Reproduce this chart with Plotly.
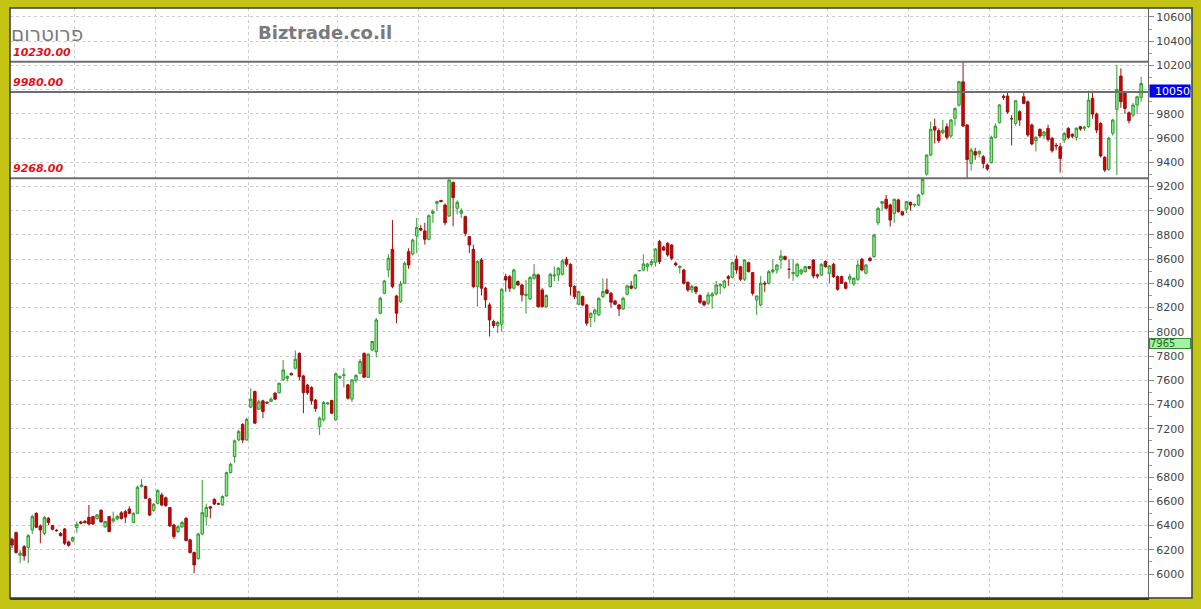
import plotly.graph_objects as go

# ---------------- data ----------------
opens = [
    6287, 6342, 6155, 6226, 6220, 6364, 6501, 6397, 6336, 6460,
    6400, 6362, 6336, 6372, 6265, 6273, 6383, 6430, 6435, 6468,
    6474, 6457, 6526, 6391, 6474, 6438, 6455, 6505, 6515, 6537,
    6425, 6501, 6722, 6722, 6620, 6524, 6584, 6653, 6630, 6549,
    6405, 6350, 6389, 6460, 6282, 6177, 6127, 6331, 6474, 6555,
    6617, 6580, 6571, 6645, 6837, 6970, 7107, 7236, 7107,
    7378, 7507, 7361, 7430, 7418, 7425, 7494, 7497, 7604, 7617,
    7655, 7699, 7822, 7636, 7560, 7541, 7436, 7218, 7273, 7405,
    7433, 7273, 7620, 7640, 7562, 7444, 7600, 7658, 7822, 7625,
    7850, 7836, 8153, 8318, 8511, 8681, 8296, 8249, 8401, 8662,
    8643, 8791, 8853, 8833, 8764, 8978, 9061, 9085, 9047, 8956,
    9234, 9020, 8978, 8951, 8786, 8681, 8374,
    8594, 8360, 8222, 8085, 8050, 8063, 8456, 8456, 8360, 8415,
    8387, 8300, 8272, 8442, 8470, 8346, 8208, 8374, 8460, 8470,
    8475, 8600, 8558, 8374, 8228, 8291, 8222, 8118, 8150, 8140,
    8291, 8346, 8318, 8255, 8222, 8189, 8310, 8379, 8360, 8505,
    8510, 8540, 8555, 8574, 8745, 8700, 8731, 8717, 8566, 8530,
    8511, 8409, 8346, 8370, 8299, 8250, 8236,
    8296, 8313, 8380, 8368, 8456, 8450, 8599, 8538, 8434, 8571,
    8489, 8263, 8222, 8401, 8401, 8497, 8511, 8593, 8621, 8516,
    8480, 8461, 8484, 8497, 8538, 8593, 8470, 8469, 8580, 8483,
    8558, 8456, 8456, 8406, 8434, 8395, 8434, 8599, 8484, 8607,
    8621, 8901, 9061, 9094, 9047, 8978, 9089, 8992, 9012, 9069,
    9047, 9047, 9138, 9303,
    9460, 9694, 9661, 9644, 9694, 9617, 9763, 9872, 10065, 9708,
    9391, 9488, 9470, 9446, 9377, 9397, 9606, 9727, 9945, 9947,
    9760, 9721, 9818, 9941, 9900, 9708, 9578, 9672, 9620, 9680,
    9598, 9540, 9529, 9584, 9680, 9630, 9606, 9694, 9680, 9694,
    9928, 9798, 9721, 9441, 9342, 9639, 9837, 10112, 9974, 9809,
    9790, 9873, 9936,
]
highs = [
    6300, 6350, 6200, 6240, 6330, 6490, 6510, 6410, 6480, 6470,
    6405, 6370, 6345, 6380, 6275, 6310, 6433, 6440, 6445, 6570,
    6480, 6495, 6535, 6440, 6480, 6515, 6490, 6520, 6530, 6560,
    6510, 6730, 6782, 6730, 6630, 6585, 6700, 6670, 6640, 6555,
    6415, 6400, 6440, 6470, 6290, 6185, 6340, 6777, 6580, 6560,
    6625, 6590, 6650, 6845, 6920, 7110, 7190, 7245, 7290,
    7534, 7515, 7440, 7440, 7425, 7460, 7500, 7580, 7768, 7640,
    7665, 7845, 7830, 7645, 7570, 7550, 7445, 7300, 7430, 7420,
    7440, 7665, 7640, 7700, 7570, 7610, 7650, 7775, 7830, 7820,
    7925, 8115, 8290, 8430, 8640, 8923, 8305, 8420, 8580, 8690,
    8770, 8940, 8880, 8900, 8970, 9010, 9080, 9090, 9060, 9260,
    9240, 9085, 9020, 8960, 8790, 8720, 8590,
    8610, 8370, 8240, 8100, 8090, 8360, 8480, 8470, 8520, 8425,
    8395, 8430, 8460, 8560, 8480, 8360, 8310, 8485, 8540, 8535,
    8600, 8620, 8565, 8385, 8340, 8300, 8230, 8160, 8190, 8285,
    8440, 8440, 8330, 8265, 8230, 8290, 8390, 8420, 8480, 8510,
    8640, 8570, 8600, 8690, 8760, 8710, 8740, 8725, 8580, 8550,
    8520, 8415, 8390, 8380, 8310, 8260, 8330,
    8330, 8420, 8400, 8430, 8470, 8580, 8630, 8545, 8600, 8580,
    8495, 8300, 8460, 8420, 8510, 8600, 8560, 8676, 8630, 8600,
    8600, 8570, 8520, 8545, 8545, 8600, 8480, 8565, 8590, 8550,
    8570, 8465, 8465, 8415, 8480, 8450, 8590, 8610, 8560, 8620,
    8810, 9030, 9080, 9130, 9060, 9100, 9100, 9000, 9080, 9075,
    9060, 9140, 9265, 9465,
    9735, 9760, 9680, 9750, 9720, 9760, 9850, 10070, 10230, 9715,
    9520, 9520, 9500, 9460, 9390, 9620, 9720, 9880, 9960, 9980,
    9790, 9915, 9830, 9975, 9910, 9720, 9615, 9680, 9660, 9710,
    9610, 9560, 9560, 9650, 9690, 9640, 9690, 9700, 9700, 9991,
    9991, 9810, 9730, 9450, 9610, 9760, 10203, 10175, 9990, 9820,
    9890, 9950, 10106,
]
lows = [
    6215, 6170, 6090, 6110, 6090, 6330, 6380, 6254, 6320, 6405,
    6360, 6350, 6310, 6240, 6225, 6262, 6340, 6410, 6420, 6405,
    6405, 6450, 6425, 6380, 6345, 6420, 6445, 6450, 6420, 6495,
    6420, 6495, 6715, 6620, 6480, 6515, 6575, 6560, 6555, 6390,
    6290, 6340, 6380, 6270, 6170, 6006, 6120, 6320, 6400, 6460,
    6570, 6570, 6565, 6640, 6830, 6920, 7095, 7080, 7100,
    7370, 7240, 7355, 7287, 7405, 7420, 7440, 7490, 7595, 7590,
    7640, 7690, 7600, 7328, 7480, 7400, 7340, 7149, 7260, 7395,
    7320, 7265, 7610, 7540, 7440, 7420, 7580, 7650, 7620, 7620,
    7840, 7790, 8145, 8310, 8450, 8360, 8071, 8240, 8395, 8520,
    8630, 8650, 8830, 8720, 8755, 8900, 9000, 9070, 8880, 8950,
    8870, 8970, 8940, 8790, 8650, 8360, 8208,
    8300, 8200, 7961, 8030, 7990, 8000, 8330, 8330, 8350, 8380,
    8250, 8150, 8260, 8430, 8200, 8200, 8200, 8365, 8420, 8420,
    8465, 8540, 8300, 8270, 8220, 8215, 8050, 8040, 8080, 8130,
    8280, 8310, 8200, 8220, 8130, 8180, 8300, 8350, 8350, 8500,
    8500, 8500, 8540, 8540, 8560, 8670, 8620, 8590, 8540, 8480,
    8390, 8330, 8320, 8310, 8230, 8210, 8220,
    8190, 8300, 8310, 8355, 8380, 8440, 8480, 8420, 8420, 8490,
    8300, 8140, 8210, 8330, 8390, 8480, 8480, 8520, 8590, 8440,
    8420, 8450, 8470, 8490, 8515, 8440, 8440, 8460, 8530, 8400,
    8445, 8340, 8395, 8350, 8400, 8380, 8420, 8500, 8475, 8580,
    8610, 8880, 9000, 9010, 8870, 8900, 8985, 8960, 8980, 9000,
    9030, 9040, 9130, 9290,
    9450, 9556, 9560, 9630, 9590, 9600, 9700, 9860, 9690, 9267,
    9330, 9420, 9440, 9350, 9330, 9390, 9600, 9720, 9915, 9800,
    9540, 9700, 9700, 9880, 9610, 9540, 9490, 9600, 9600, 9570,
    9480, 9500, 9314, 9560, 9590, 9600, 9580, 9660, 9660, 9685,
    9760, 9640, 9440, 9320, 9330, 9620, 9295, 9850, 9800, 9720,
    9770, 9800, 9900,
]
closes = [
    6240, 6177, 6172, 6150, 6317, 6474, 6386, 6364, 6466, 6425,
    6370, 6358, 6317, 6254, 6237, 6300, 6410, 6420, 6424, 6413,
    6413, 6488, 6430, 6433, 6350, 6455, 6475, 6458, 6470, 6501,
    6501, 6716, 6735, 6625, 6487, 6576, 6689, 6570, 6565, 6397,
    6309, 6391, 6425, 6276, 6177, 6075, 6331, 6507, 6549, 6545,
    6578, 6578, 6640, 6837, 6906, 7100, 7176, 7107, 7277,
    7444, 7246, 7422, 7342, 7412, 7444, 7444, 7575, 7685, 7630,
    7645, 7773, 7630, 7497, 7497, 7430, 7367, 7287, 7416, 7413,
    7328, 7653, 7630, 7645, 7452, 7603, 7640, 7755, 7625, 7816,
    7920, 8098, 8277, 8420, 8607, 8374, 8153, 8395, 8566, 8552,
    8758, 8862, 8840, 8764, 8959, 8995, 9075, 9075, 8901, 9253,
    9108, 9069, 9000, 8813, 8717, 8374, 8580,
    8360, 8264, 8098, 8052, 8077, 8352, 8428, 8360, 8511, 8387,
    8305, 8310, 8448, 8475, 8208, 8208, 8300, 8475, 8470, 8525,
    8585, 8558, 8374, 8291, 8332, 8222, 8071, 8153, 8180, 8277,
    8332, 8318, 8244, 8228, 8189, 8277, 8379, 8360, 8470, 8505,
    8560, 8560, 8580, 8684, 8580, 8675, 8635, 8607, 8552, 8540,
    8401, 8346, 8374, 8330, 8244, 8222, 8305,
    8313, 8387, 8390, 8420, 8442, 8571, 8511, 8434, 8593, 8497,
    8318, 8296, 8401, 8395, 8497, 8511, 8552, 8626, 8599, 8516,
    8490, 8558, 8511, 8538, 8525, 8461, 8461, 8558, 8538, 8544,
    8456, 8351, 8401, 8360, 8456, 8442, 8552, 8511, 8552, 8588,
    8800, 9020, 9075, 9020, 8923, 9094, 8992, 8965, 9075, 9047,
    9050, 9130, 9259, 9460,
    9672, 9666, 9578, 9666, 9606, 9749, 9845, 10065, 9699, 9424,
    9501, 9460, 9490, 9391, 9344, 9606, 9699, 9873, 9936, 9815,
    9760, 9908, 9749, 9886, 9625, 9551, 9606, 9617, 9650, 9589,
    9496, 9535, 9432, 9639, 9606, 9615, 9680, 9675, 9690, 9914,
    9798, 9666, 9452, 9336, 9598, 9749, 10002, 9900, 9845, 9743,
    9873, 9941, 10050,
]
# candle index where each month begins (vertical grid lines)
month_starts = [16, 36, 59, 81, 101, 122, 140, 159, 179, 202, 222, 242, 260]
# support / resistance levels drawn on the chart
levels = [10230.00, 9980.00, 9268.00]
level_labels = ["10230.00", "9980.00", "9268.00"]
# price tags on the axis
last_price = 10050
ref_price = 7965
y_ticks = list(range(6000, 10601, 200))

# --------------------------------------------------------------------------
n = len(closes)
xs = list(range(n))
hi = [max(h, o, c) for h, o, c in zip(highs, opens, closes)]
lo = [min(l, o, c) for l, o, c in zip(lows, opens, closes)]

fig = go.Figure()
fig.add_trace(go.Candlestick(
    x=xs, open=opens, high=hi, low=lo, close=closes,
    increasing=dict(fillcolor="#8EE88E", line=dict(color="#2F9A2F", width=1)),
    decreasing=dict(fillcolor="#D00000", line=dict(color="#9A1010", width=1)),
    whiskerwidth=0, showlegend=False, hoverinfo="skip",
))

DOM_END = (1148 - 10) / 1182
OLIVE = "#C4C414"

shapes = [
    # white band behind the price axis
    dict(type="rect", xref="paper", yref="paper", x0=DOM_END, x1=1, y0=0, y1=1,
         fillcolor="white", line=dict(width=0), layer="below"),
]
for lv in levels:
    shapes.append(dict(type="line", xref="paper", yref="y", x0=0, x1=DOM_END,
                       y0=lv, y1=lv, line=dict(color="#6E6E6E", width=2), layer="above"))
shapes.append(dict(type="rect", xref="paper", yref="paper", x0=0, x1=1, y0=0, y1=1,
                   fillcolor="rgba(0,0,0,0)", line=dict(color="#3A3A3A", width=1.5),
                   layer="above"))

annotations = []
for lv, lab in zip(levels, level_labels):
    annotations.append(dict(
        x=0, xref="paper", y=lv, yref="y", text="<b><i>" + lab + "</i></b>",
        showarrow=False, xanchor="left", yanchor="bottom", xshift=1, yshift=1,
        font=dict(family="DejaVu Sans", size=11, color="#E0101A"),
    ))

annotations += [
    dict(x=0, xref="paper", y=1, yref="paper", yshift=-12, text="פרוטרום",
         showarrow=False, xanchor="left", yanchor="top", xshift=-1,
         font=dict(family="DejaVu Sans", size=20, color="#7A7A7A")),
    dict(x=(256 - 10) / 1182, xref="paper", y=1, yref="paper", yshift=-12,
         text="<b>Biztrade.co.il</b>", showarrow=False, xanchor="left", yanchor="top",
         font=dict(family="DejaVu Sans", size=18, color="#7A7A7A")),
    dict(x=DOM_END, xref="paper", y=last_price, yref="y", text=str(last_price),
         showarrow=False, xanchor="left", yanchor="top", xshift=1, width=40, height=12,
         align="right", bgcolor="#0000F0", borderpad=0,
         font=dict(family="DejaVu Sans", size=11, color="white")),
    dict(x=DOM_END, xref="paper", y=ref_price, yref="y", text=str(ref_price),
         showarrow=False, xanchor="left", yanchor="top", xshift=1, yshift=-2,
         width=40, height=9,
         align="left", bgcolor="#A8F0A8", bordercolor="#2F8F2F", borderwidth=1, borderpad=0,
         font=dict(family="DejaVu Sans", size=10, color="#1E6E1E")),
]

fig.update_layout(
    width=1201, height=609,
    margin=dict(l=10, r=9, t=8, b=11),
    paper_bgcolor=OLIVE, plot_bgcolor="white",
    boxgap=0.12,
    shapes=shapes, annotations=annotations,
    xaxis=dict(
        domain=[0, DOM_END], range=[-0.5, n + 0.7], rangeslider=dict(visible=False),
        tickmode="array", tickvals=[m - 0.5 for m in month_starts],
        showticklabels=False, ticks="", showgrid=True, gridcolor="#CCCCCC",
        griddash="dot", gridwidth=1, zeroline=False, fixedrange=True,
        showline=True, linecolor="#3A3A3A", linewidth=1.5,
    ),
    yaxis=dict(
        side="right", range=[5802, 10674], tickmode="array", tickvals=y_ticks,
        ticktext=[str(t) for t in y_ticks], ticks="outside", ticklen=5,
        tickcolor="#888888", tickfont=dict(family="DejaVu Sans", size=11, color="#444444"),
        showgrid=True, gridcolor="#CCCCCC", griddash="dot", gridwidth=1,
        zeroline=False, showline=True, linecolor="#666666", linewidth=1,
        mirror=False,
        minor=dict(tickvals=[t + 100 for t in y_ticks], ticks="outside", ticklen=3,
                   tickcolor="#999999", showgrid=False),
    ),
)

fig.write_html("out.html", config={"displayModeBar": False},
               post_script="document.body.style.margin='0';")
